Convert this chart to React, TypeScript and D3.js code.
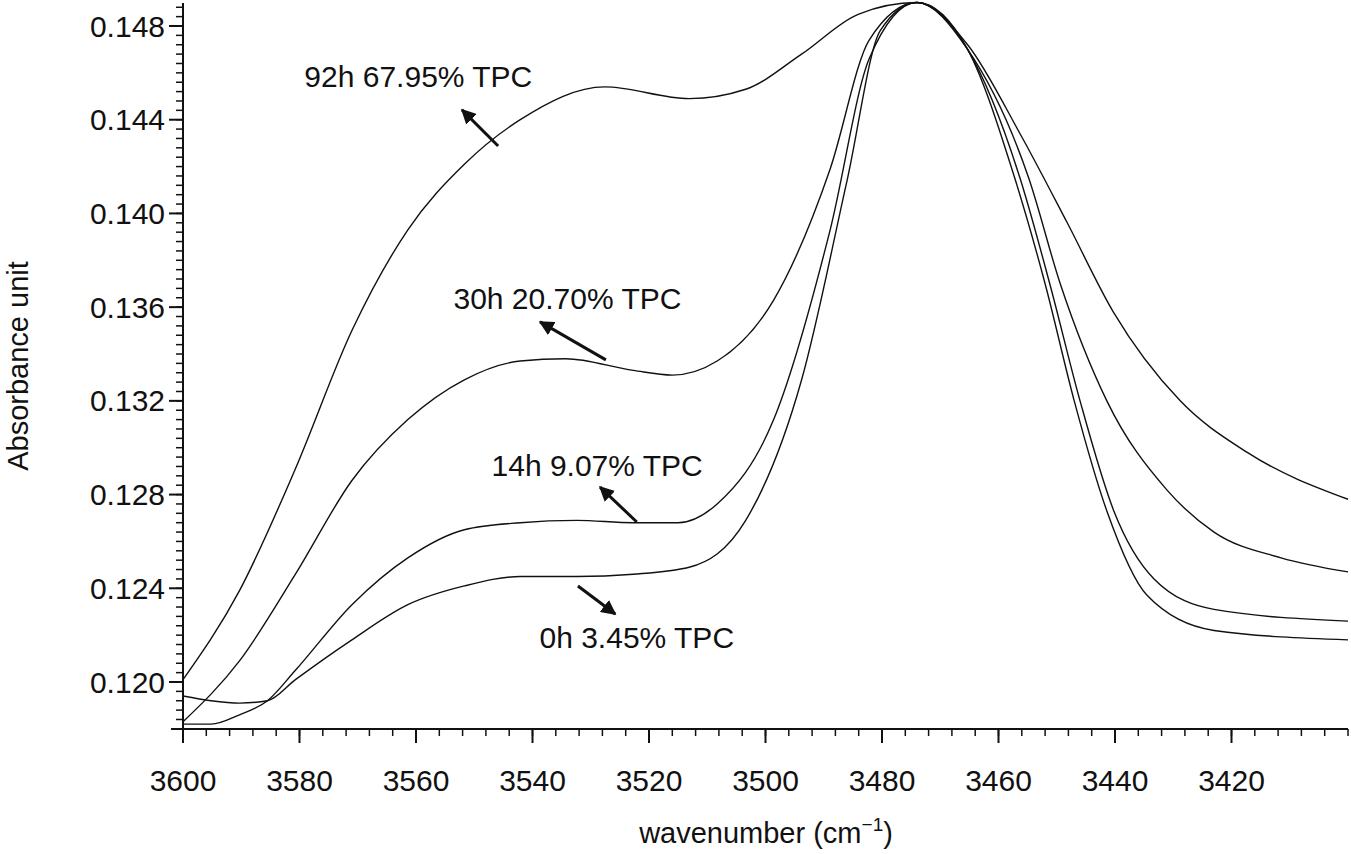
import * as d3 from "d3";

type Pt = [number, number];

// wavenumber (cm-1), absorbance
const wn92h: Pt[] = [
  [3600, 0.1201], [3590.3, 0.1239], [3580.7, 0.1291], [3571, 0.135], [3561.4, 0.1393],
  [3551.7, 0.1421], [3542.1, 0.144], [3527.6, 0.1454], [3513.1, 0.1449], [3503.4, 0.1453],
  [3493.8, 0.1468], [3484.1, 0.1485], [3474, 0.149], [3465.3, 0.1472], [3456.3, 0.1434],
  [3448.2, 0.1396], [3440.3, 0.1358], [3428.8, 0.132], [3417.3, 0.1298], [3400, 0.1278],
];
const wn30h: Pt[] = [
  [3600, 0.1183], [3590.3, 0.1209], [3580.7, 0.1246], [3571, 0.1286], [3561.4, 0.1312],
  [3551.7, 0.1329], [3542.1, 0.1337], [3534.3, 0.1338], [3522.7, 0.1333], [3516, 0.1331],
  [3508.3, 0.1337], [3498.6, 0.1363], [3488.9, 0.1419], [3482.2, 0.1474], [3474, 0.149],
  [3465.3, 0.147], [3454.8, 0.1415], [3449.4, 0.137], [3441.4, 0.132], [3431.1, 0.1282],
  [3423, 0.1264], [3411.5, 0.1253], [3400, 0.1247],
];
const wn14h: Pt[] = [
  [3600, 0.1182], [3595.2, 0.1182], [3590.3, 0.1186], [3585.5, 0.1192], [3580.7, 0.1205],
  [3571, 0.1233], [3561.4, 0.1253], [3551.7, 0.1265], [3542.1, 0.1268], [3532.4, 0.1269],
  [3522.7, 0.1268], [3515, 0.1268], [3508.3, 0.1276], [3498.6, 0.1312], [3488.9, 0.1393],
  [3482.2, 0.1466], [3474, 0.149], [3465.3, 0.147], [3456.3, 0.1415], [3451.2, 0.137],
  [3446, 0.132], [3440.2, 0.1273], [3433.3, 0.1244], [3423, 0.1231], [3400, 0.1226],
];
const wn0h: Pt[] = [
  [3600, 0.1194], [3595.2, 0.1192], [3590.3, 0.1191], [3585.5, 0.1192], [3580.7, 0.1201],
  [3571, 0.1218], [3561.4, 0.1233], [3551.7, 0.1241], [3542.1, 0.1245], [3532.4, 0.1245],
  [3522.7, 0.1246], [3513.1, 0.1249], [3503.4, 0.1269], [3493.8, 0.1329], [3486, 0.1414],
  [3480.3, 0.1478], [3474, 0.149], [3465.3, 0.147], [3457.2, 0.1415], [3452, 0.137],
  [3447, 0.132], [3441.4, 0.1273], [3434.5, 0.1237], [3423, 0.1222], [3400, 0.1218],
];
const seriesList = [wn92h, wn30h, wn14h, wn0h];

// label, label pos, arrow tail, arrow head (data coords)
const annotations: { text: string; at: Pt; tail: Pt; head: Pt }[] = [
  { text: "92h 67.95% TPC", at: [3559.6, 0.14583], tail: [3545.9, 0.14288], head: [3552.1, 0.14442] },
  { text: "30h 20.70% TPC", at: [3534.0, 0.13639], tail: [3527.4, 0.13375], head: [3538.7, 0.13537] },
  { text: "14h 9.07% TPC", at: [3528.9, 0.12922], tail: [3522.1, 0.12683], head: [3528.4, 0.12832] },
  { text: "0h 3.45% TPC", at: [3522.1, 0.12192], tail: [3532.2, 0.1241], head: [3525.8, 0.1229] },
];

const xTicks = [3600, 3580, 3560, 3540, 3520, 3500, 3480, 3460, 3440, 3420];
const yTicks = [0.12, 0.124, 0.128, 0.132, 0.136, 0.14, 0.144, 0.148];

const W = 1351;
const H = 854;
const M = { left: 183, right: 1348, top: 3, bottom: 729 };
const FONT = "'Liberation Sans', Arial, sans-serif";

export default function App() {
  const x = d3.scaleLinear().domain([3600, 3400]).range([M.left, M.right]);
  const y = d3.scaleLinear().domain([0.12, 0.148]).range([682, 26]);
  const yMax = y.invert(M.top);
  const line = d3
    .line<Pt>()
    .x((d) => x(d[0]))
    .y((d) => y(d[1]))
    .curve(d3.curveMonotoneX);

  const xMinor = d3.range(3600, 3399, -4);
  const yMinor: number[] = [];
  for (let v = 0.1184; v <= yMax; v += 0.0004) yMinor.push(v);

  return (
    <svg width={W} height={H} style={{ position: "absolute", left: 0, top: 0, background: "#fff" }} fontFamily={FONT}>
      <defs>
        <marker id="ah" viewBox="0 0 10 10" refX="9" refY="5" markerWidth="5" markerHeight="5" orient="auto">
          <path d="M0,0 L10,5 L0,10 z" fill="#111" />
        </marker>
      </defs>
      {seriesList.map((s, i) => (
        <path key={i} d={line(s) ?? ""} fill="none" stroke="#111" strokeWidth={1.4} />
      ))}
      {/* axes */}
      <line x1={M.left} x2={M.left} y1={M.top} y2={M.bottom} stroke="#111" strokeWidth={2} />
      <line x1={M.left - 12} x2={M.right} y1={M.bottom} y2={M.bottom} stroke="#111" strokeWidth={2} />
      {yMinor.map((v, i) => (
        <line key={i} x1={M.left - 7} x2={M.left} y1={y(v)} y2={y(v)} stroke="#111" strokeWidth={1.5} />
      ))}
      {yTicks.map((v) => (
        <g key={v}>
          <line x1={M.left - 14} x2={M.left} y1={y(v)} y2={y(v)} stroke="#111" strokeWidth={2} />
          <text x={M.left - 18} y={y(v)} dy="0.35em" textAnchor="end" fontSize={30} fill="#111">
            {v.toFixed(3)}
          </text>
        </g>
      ))}
      {xMinor.map((v) => (
        <line key={v} x1={x(v)} x2={x(v)} y1={M.bottom} y2={M.bottom + 7} stroke="#111" strokeWidth={1.5} />
      ))}
      {xTicks.map((v) => (
        <g key={v}>
          <line x1={x(v)} x2={x(v)} y1={M.bottom} y2={M.bottom + 14} stroke="#111" strokeWidth={2} />
          <text x={x(v)} y={791} textAnchor="middle" fontSize={30} fill="#111">
            {v}
          </text>
        </g>
      ))}
      <text x={766} y={843} textAnchor="middle" fontSize={29} fill="#111">
        wavenumber (cm<tspan dy={-12} fontSize={19}>−1</tspan><tspan dy={12}>)</tspan>
      </text>
      <text transform={`translate(28,${(M.top + M.bottom) / 2}) rotate(-90)`} textAnchor="middle" fontSize={29} fill="#111">
        Absorbance unit
      </text>
      {annotations.map((a) => (
        <g key={a.text}>
          <text x={x(a.at[0])} y={y(a.at[1])} dy="0.35em" textAnchor="middle" fontSize={30} fill="#111">
            {a.text}
          </text>
          <line
            x1={x(a.tail[0])}
            y1={y(a.tail[1])}
            x2={x(a.head[0])}
            y2={y(a.head[1])}
            stroke="#111"
            strokeWidth={3}
            markerEnd="url(#ah)"
          />
        </g>
      ))}
    </svg>
  );
}
